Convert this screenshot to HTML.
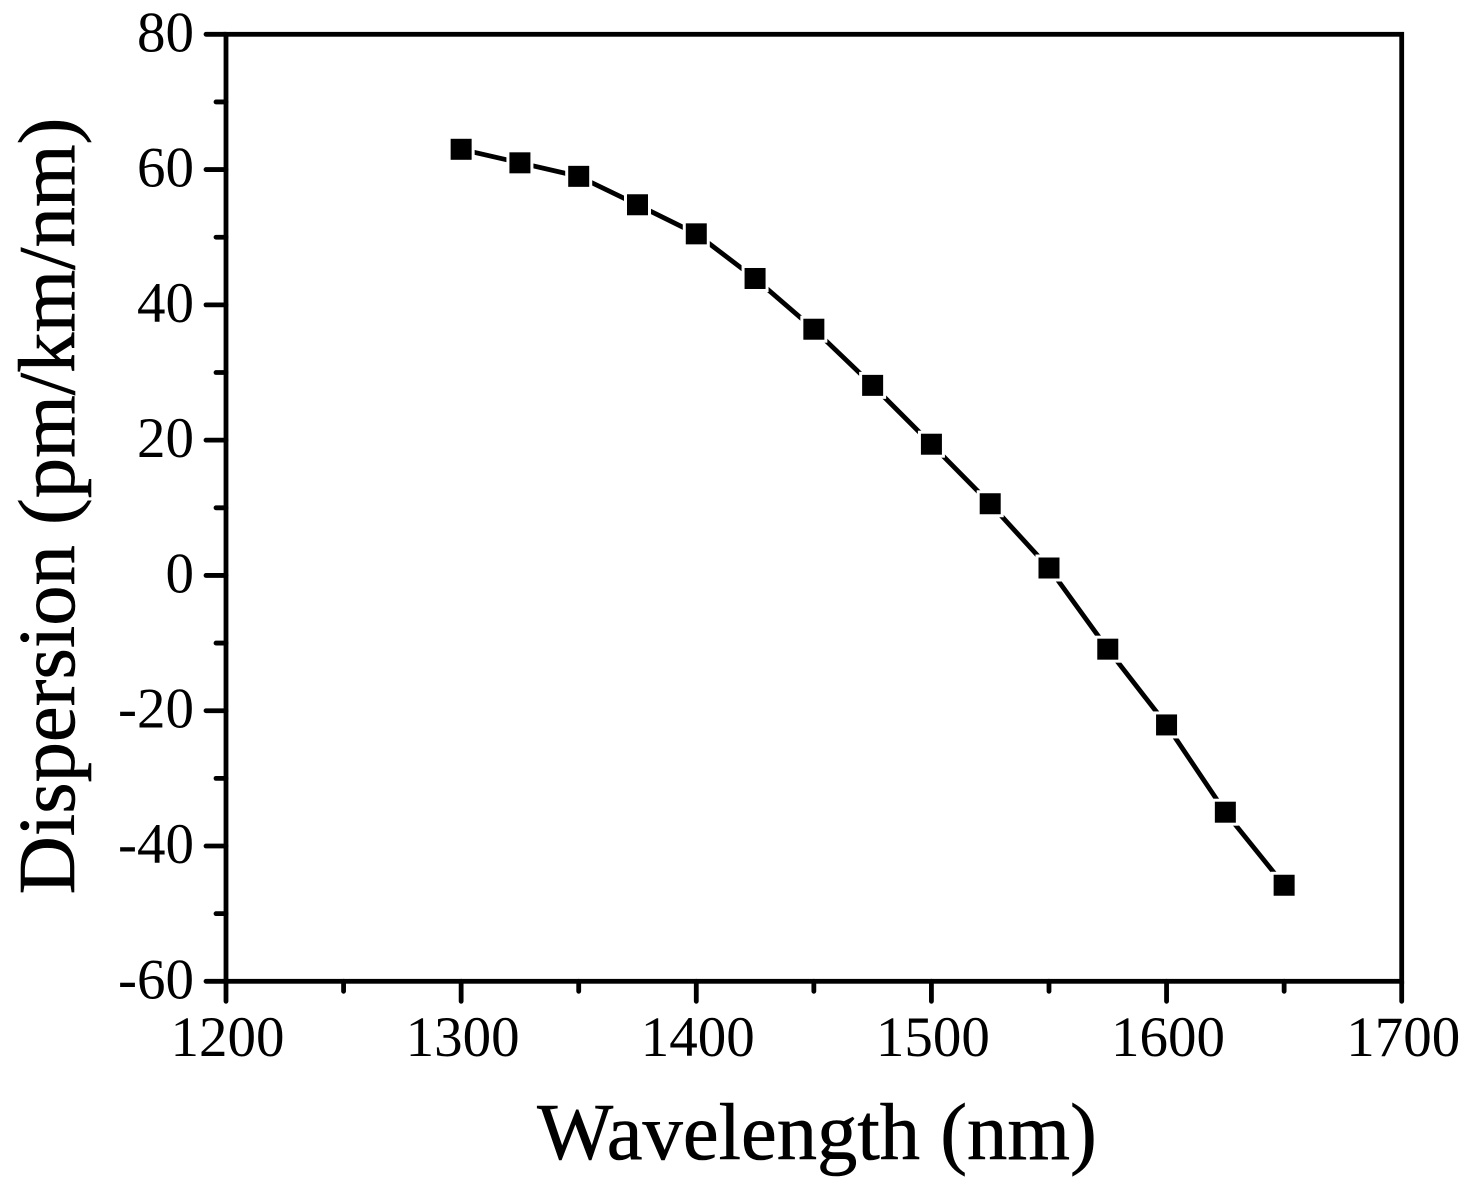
<!DOCTYPE html>
<html lang="en">
<head>
<meta charset="utf-8">
<title>Dispersion vs Wavelength</title>
<style>
html,body{margin:0;padding:0;background:#fff;}
svg{display:block;}
text{font-family:"Liberation Serif",serif;fill:#000;}
</style>
</head>
<body>
<svg id="chart" xmlns="http://www.w3.org/2000/svg" width="1469" height="1186" viewBox="0 0 1469 1186">
  <rect x="0" y="0" width="1469" height="1186" fill="#fff"/>
  <g id="series"></g>
  <g id="axes"></g>
  <text x="817" y="1159" font-size="80.6" text-anchor="middle" stroke="#000" stroke-width="0.6">Wavelength (nm)</text>
  <text transform="translate(74,506) rotate(-90)" font-size="80.6" text-anchor="middle" stroke="#000" stroke-width="0.6">Dispersion (pm/km/nm)</text>
</svg>
<script>
const wavelengths = [1300,1325,1350,1375,1400,1425,1450,1475,1500,1525,1550,1575,1600,1625,1650];
const dispersion = [63,61,59,54.8,50.5,43.9,36.4,28.1,19.4,10.6,1.1,-10.9,-22.1,-35,-45.8];
const xTicks = [1200,1300,1400,1500,1600,1700];
const xMinorTicks = [1250,1350,1450,1550,1650];
const yTicks = [80,60,40,20,0,-20,-40,-60];
const yMinorTicks = [70,50,30,10,-10,-30,-50];

const plot = {left:226, right:1401.7, top:34.3, bottom:981.3};
const xMin = 1200, xMax = 1700, yMin = -60, yMax = 80;
function xScale(v){ return plot.left + (v - xMin) / (xMax - xMin) * (plot.right - plot.left); }
function yScale(v){ return plot.bottom - (v - yMin) / (yMax - yMin) * (plot.bottom - plot.top); }

const NS = 'http://www.w3.org/2000/svg';
const axes = document.getElementById('axes');
const series = document.getElementById('series');
function make(tag, parent, attrs){
  const el = document.createElementNS(NS, tag);
  for (const k in attrs) el.setAttribute(k, attrs[k]);
  parent.appendChild(el);
  return el;
}
const strokeW = 4.8;

// data line
const linePoints = wavelengths.map((w,i) => xScale(w).toFixed(1) + ',' + yScale(dispersion[i]).toFixed(1)).join(' ');
const line = make('polyline', series, {points:linePoints, fill:'none', stroke:'#000', 'stroke-width':strokeW, 'stroke-linejoin':'round'});



// markers with white gap around them
wavelengths.forEach((w,i) => {
  const cx = xScale(w), cy = yScale(dispersion[i]);
  const halo = make('rect', series, {x:cx-13.5, y:cy-13.5, width:27, height:27, fill:'#fff'});
  
  
});
wavelengths.forEach((w,i) => {
  const cx = xScale(w), cy = yScale(dispersion[i]);
  const marker = make('rect', series, {x:cx-10.5, y:cy-10.5, width:21, height:21, fill:'#000'});
  
  
});

// frame
const frame = make('rect', axes, {x:plot.left, y:plot.top, width:plot.right-plot.left, height:plot.bottom-plot.top, fill:'none', stroke:'#000', 'stroke-width':strokeW});



// x ticks
xTicks.forEach(v => {
  const x = xScale(v);
  const t = make('line', axes, {x1:x, x2:x, y1:plot.bottom, y2:plot.bottom+20, stroke:'#000', 'stroke-width':strokeW, 'stroke-linecap':'round'});
  
  
  const l = make('text', axes, {x:x+1.5, y:1056, 'font-size':57, 'text-anchor':'middle'});
  l.textContent = String(v);
  
  
});
xMinorTicks.forEach(v => {
  const x = xScale(v);
  const t = make('line', axes, {x1:x, x2:x, y1:plot.bottom, y2:plot.bottom+10, stroke:'#000', 'stroke-width':strokeW, 'stroke-linecap':'round'});
  
  
});

// y ticks
yTicks.forEach(v => {
  const y = yScale(v);
  const t = make('line', axes, {x1:plot.left, x2:plot.left-20, y1:y, y2:y, stroke:'#000', 'stroke-width':strokeW, 'stroke-linecap':'round'});
  
  
  const l = make('text', axes, {x:194, y:y+17, 'font-size':57, 'text-anchor':'end'});
  l.textContent = String(v);
  
  
});
yMinorTicks.forEach(v => {
  const y = yScale(v);
  const t = make('line', axes, {x1:plot.left, x2:plot.left-10, y1:y, y2:y, stroke:'#000', 'stroke-width':strokeW, 'stroke-linecap':'round'});
  
  
});
</script>
</body>
</html>
